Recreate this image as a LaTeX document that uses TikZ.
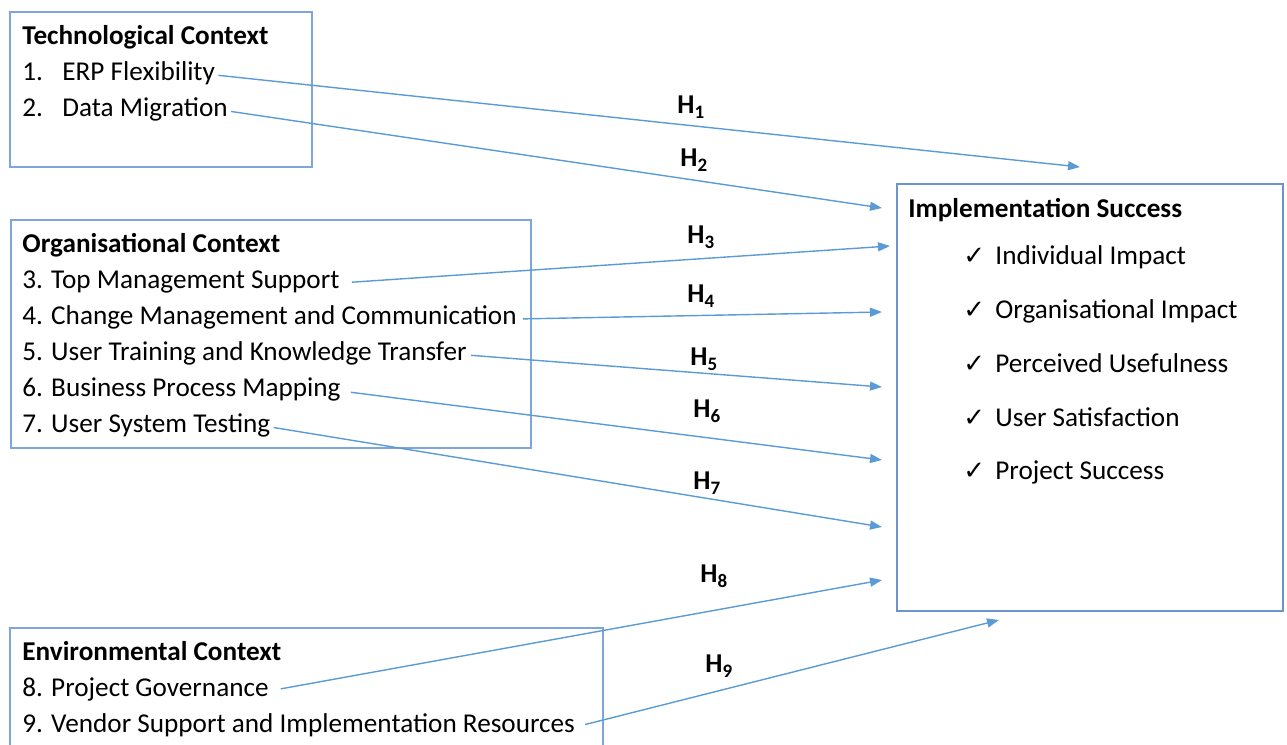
\documentclass[tikz,border=0pt]{standalone}
\usepackage{fontspec}
\setmainfont{Carlito}
\newfontfamily\symfont{DejaVu Sans}
\usetikzlibrary{arrows.meta}
\definecolor{linkblue}{HTML}{5B9BD5}
\definecolor{boxblue}{HTML}{7EA6DC}
\definecolor{outblue}{HTML}{6F93CF}
\newcommand{\hyp}[1]{H\raisebox{-0.45ex}{\fontsize{9.5}{9.5}\selectfont #1}}
\newcommand{\tick}{\makebox[16pt][l]{\symfont\fontsize{13}{13}\selectfont ✓}}
\begin{document}
\begin{tikzpicture}[x=0.5pt,y=-0.5pt,
  txt/.style={anchor=base west, inner sep=0pt, text height=0.72em, text depth=0.22em,
    font=\fontsize{13.6}{16}\selectfont},
  head/.style={txt, font=\fontsize{13.6}{16}\selectfont\bfseries},
  frame/.style={draw=boxblue, line width=0.7pt},
  link/.style={draw=linkblue, line width=0.7pt,
    -{Triangle[length=6pt,width=4.5pt]}},
  hlab/.style={anchor=base west, inner sep=0pt, font=\fontsize{13.6}{16}\selectfont\bfseries}]
\useasboundingbox (0,0) rectangle (1287,745);

% context frames
\draw[frame] (10,12) rectangle (312,167);
\draw[frame] (11,220) rectangle (531,448);
\draw[frame] (10,628) rectangle (603,790);
\draw[draw=outblue, line width=0.7pt] (897,184) rectangle (1283,611);

% technological context
\node[head] (tech) at (22,44) {Technological Context};
\node[txt] (t1) at (22,80) {\makebox[20pt][l]{1.}ERP Flexibility};
\node[txt] (t2) at (22,116) {\makebox[20pt][l]{2.}Data Migration};

% organisational context
\node[head] (org) at (22,252) {Organisational Context};
\node[txt] (o3) at (22,288) {3. Top Management Support};
\node[txt] (o4) at (22,324) {4. Change Management and Communication};
\node[txt] (o5) at (22,360) {5. User Training and Knowledge Transfer};
\node[txt] (o6) at (22,396) {6. Business Process Mapping};
\node[txt] (o7) at (22,432) {7. User System Testing};

% environmental context
\node[head] (env) at (22,660) {Environmental Context};
\node[txt] (e8) at (22,696) {8. Project Governance};
\node[txt] (e9) at (22,732) {9. Vendor Support and Implementation Resources};

% outcome
\node[head] (impl) at (908,217) {Implementation Success};
\node[txt] (s1) at (963,264) {\tick Individual Impact};
\node[txt] (s2) at (963,318) {\tick Organisational Impact};
\node[txt] (s3) at (963,372) {\tick Perceived Usefulness};
\node[txt] (s4) at (963,426) {\tick User Satisfaction};
\node[txt] (s5) at (963,479) {\tick Project Success};

% arrow targets
\coordinate (p1) at (1080,167);
\coordinate (p2) at (882,208);
\coordinate (p3) at (890,246);
\coordinate (p4) at (882,312);
\coordinate (p5) at (882,387);
\coordinate (p6) at (882,460);
\coordinate (p7) at (882,527);
\coordinate (p8) at (882,580);
\coordinate (p9) at (999,620);

% hypotheses
\draw[link, shorten <=1.5pt] (t1.east) -- (p1);
\draw[link, shorten <=1.5pt] (t2.east) -- (p2);
\draw[link, shorten <=6pt] (o3.east) -- (p3);
\draw[link, shorten <=3pt] (o4.east) -- (p4);
\draw[link, shorten <=2pt] (o5.east) -- (p5);
\draw[link, shorten <=5pt] (o6.east) -- (p6);
\draw[link, shorten <=1.5pt] (o7.east) -- (p7);
\draw[link, shorten <=6pt] (e8.east) -- (p8);
\draw[link, shorten <=5pt] (e9.east) -- (p9);

\node[hlab] (h1) at (677,113) {\hyp{1}};
\node[hlab] (h2) at (680,166) {\hyp{2}};
\node[hlab] (h3) at (687,243) {\hyp{3}};
\node[hlab] (h4) at (687,302) {\hyp{4}};
\node[hlab] (h5) at (690,365) {\hyp{5}};
\node[hlab] (h6) at (693,417) {\hyp{6}};
\node[hlab] (h7) at (693,489) {\hyp{7}};
\node[hlab] (h8) at (700,582) {\hyp{8}};
\node[hlab] (h9) at (705,672) {\hyp{9}};
\end{tikzpicture}
\end{document}
